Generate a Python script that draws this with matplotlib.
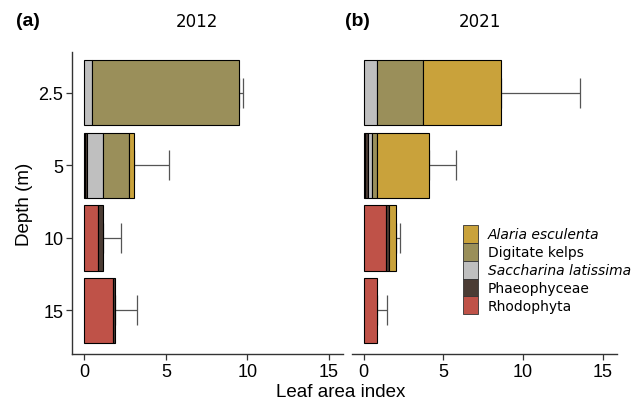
import numpy as np
import matplotlib.pyplot as plt
from matplotlib.patches import Patch

# depths (m) and leaf area index per group, stacked left to right
depths = ['2.5', '5', '10', '15']
groups = ['Rhodophyta', 'Phaeophyceae', 'Saccharina latissima', 'Digitate kelps', 'Alaria esculenta']
colors = ['#BF5248', '#4B3C34', '#BFBFBF', '#9A8F5A', '#C9A23B']

lai_2012 = {
    'Rhodophyta': [0, 0.02, 0.86, 1.78],
    'Phaeophyceae': [0, 0.12, 0.27, 0.10],
    'Saccharina latissima': [0.49, 1.03, 0, 0],
    'Digitate kelps': [8.98, 1.57, 0, 0],
    'Alaria esculenta': [0, 0.29, 0, 0],
}
sd_2012 = [0.28, 2.19, 1.10, 1.38]

lai_2021 = {
    'Rhodophyta': [0, 0.08, 1.37, 0.80],
    'Phaeophyceae': [0, 0.16, 0.19, 0],
    'Saccharina latissima': [0.86, 0.28, 0, 0],
    'Digitate kelps': [2.83, 0.34, 0, 0],
    'Alaria esculenta': [4.93, 3.24, 0.49, 0],
}
sd_2021 = [4.96, 1.70, 0.22, 0.64]

xticks = [0, 5, 10, 15]

plt.rcParams['font.family'] = ['Liberation Sans', 'DejaVu Sans']
axis_col = '#333333'

fig = plt.figure(figsize=(6.44, 4.06), dpi=100)
ax1 = fig.add_axes([0.1123, 0.1256, 0.421, 0.744])
ax2 = fig.add_axes([0.5466, 0.1256, 0.4115, 0.744])


def draw_panel(ax, data, sd):
    y = np.arange(len(depths))
    left = np.zeros(len(depths))
    # error bars behind the bars, going out from the stack total
    totals = np.sum([data[g] for g in groups], axis=0)
    ax.errorbar(totals, y, xerr=[np.zeros(len(sd)), sd], fmt='none',
                ecolor='#555555', elinewidth=0.9, capsize=10.5, capthick=0.9, zorder=1)
    for g, c in zip(groups, colors):
        vals = np.array(data[g], dtype=float)
        m = vals > 0
        ax.barh(y[m], vals[m], left=left[m], height=0.9, color=c,
                edgecolor='black', linewidth=0.8, zorder=2)
        left += vals
    ax.set_ylim(3.6, -0.56)
    ax.set_xlim(-0.74, 15.9)
    ax.set_xticks(xticks)
    ax.set_xticklabels([str(t) for t in xticks], fontsize=13)
    for s in ['top', 'right']:
        ax.spines[s].set_visible(False)
    for s in ['left', 'bottom']:
        ax.spines[s].set_color(axis_col)
        ax.spines[s].set_linewidth(1.0)
    ax.tick_params(axis='both', colors=axis_col, length=4, width=0.9, labelcolor='black', pad=2.5)


draw_panel(ax1, lai_2012, sd_2012)
draw_panel(ax2, lai_2021, sd_2021)

ax1.set_yticks(np.arange(len(depths)))
ax1.set_yticklabels(depths, fontsize=13)
ax1.set_ylabel('Depth (m)', fontsize=13.5, labelpad=4)

ax2.spines['left'].set_visible(False)
ax2.set_yticks([])

# panel titles
fig.text(197 / 644, 1 - 22 / 406, '2012', fontsize=12, family='DejaVu Sans', ha='center', va='center')
fig.text(480 / 644, 1 - 22 / 406, '2021', fontsize=12, family='DejaVu Sans', ha='center', va='center')
fig.text(28 / 644, 1 - 22 / 406, '(a)', fontsize=14, fontweight='bold', ha='center', va='center')
fig.text(357 / 644, 1 - 22 / 406, '(b)', fontsize=14, fontweight='bold', ha='center', va='center')
fig.text(341 / 644, 1 - 393 / 406, 'Leaf area index', fontsize=13.5, ha='center', va='center')

# legend, top entry first
handles = [Patch(facecolor=c, edgecolor='#333333', linewidth=0.6) for c in colors[::-1]]
leg = fig.legend(handles, groups[::-1], loc='upper left', bbox_to_anchor=(463 / 644, 1 - 226 / 406),
                 frameon=False, borderpad=0, borderaxespad=0, labelspacing=0,
                 handlelength=1.1, handleheight=1.6, handletextpad=0.7,
                 prop={'family': 'DejaVu Sans', 'size': 10})
for t in leg.get_texts():
    if t.get_text() in ('Alaria esculenta', 'Saccharina latissima'):
        t.set_style('italic')

fig.savefig('out.png', dpi=100)
